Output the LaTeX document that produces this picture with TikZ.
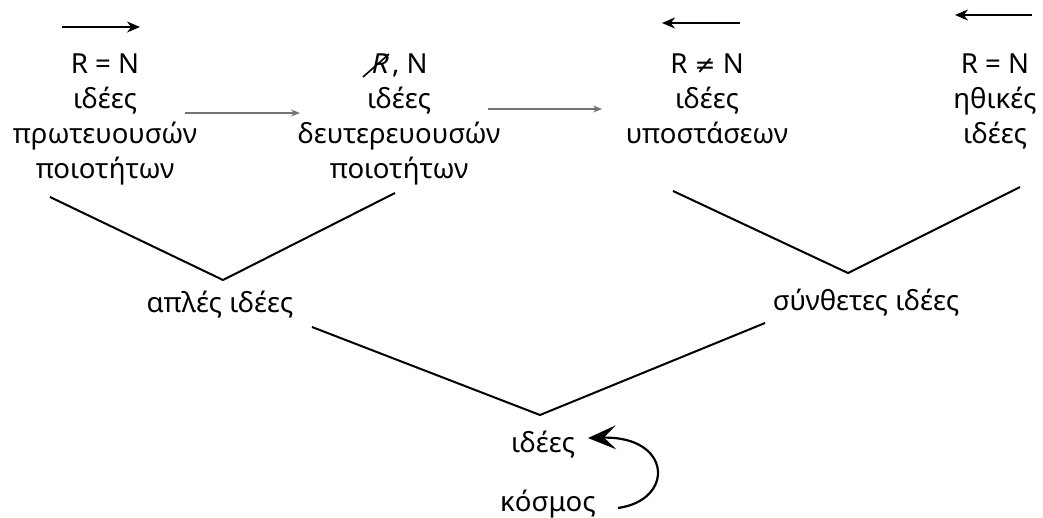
\documentclass[tikz,border=0pt]{standalone}
\usepackage{fontspec}
\setmainfont{Noto Sans}
\newfontfamily\slantR[FakeSlant=0.2]{Noto Sans}
\newfontfamily\symfont{DejaVu Sans}
\usetikzlibrary{arrows.meta}
\begin{document}
\begin{tikzpicture}[x=0.5pt,y=-0.5pt,
  lbl/.style={align=center, inner sep=0pt, font=\fontsize{13.8}{17.5}\selectfont},
  vline/.style={line width=1pt, line join=miter},
  toparrow/.style={line width=0.9pt, -{Stealth[length=6.5pt,width=5.5pt]}},
  midarrow/.style={line width=0.6pt, black!55, -{Stealth[length=4.5pt,width=3.5pt]}},
  bigarrow/.style={line width=1.1pt, -{Stealth[length=14pt,width=12pt,inset=6pt]}},
]
\useasboundingbox (0,0) rectangle (1043,518);

% text nodes (anchor = baseline of last line)
\node[lbl, anchor=base] (n1) at (105,179) {R = N\\ιδέες\\πρωτευουσών\\ποιοτήτων};
\node[lbl, anchor=base] (n2) at (399,179) {{\slantR R}\,, N\\ιδέες\\δευτερευουσών\\ποιοτήτων};
\node[lbl, anchor=base] (n3) at (707,144) {R {\symfont\fontsize{12.5}{17.5}\selectfont ≠} N\\ιδέες\\υποστάσεων};
\node[lbl, anchor=base] (n4) at (995,144) {R = N\\ηθικές\\ιδέες};
\node[lbl, anchor=base] (s) at (220,312) {απλές ιδέες};
\node[lbl, anchor=base] (c) at (866,310) {σύνθετες ιδέες};
\node[lbl, anchor=base] (i) at (543,452) {ιδέες};
\node[lbl, anchor=base] (k) at (548,511) {κόσμος};

% strike through R
\coordinate (st1) at (363,77);
\coordinate (st2) at (389,54);
\draw[line width=0.8pt] (st1) -- (st2);

% direction arrows
\coordinate (a0s) at (62,27);   \coordinate (a0e) at (140,27);
\coordinate (a3s) at (740,23);  \coordinate (a3e) at (662,23);
\coordinate (a4s) at (1032,15); \coordinate (a4e) at (955,15);
\draw[toparrow] (a0s) -- (a0e);
\draw[toparrow] (a3s) -- (a3e);
\draw[toparrow] (a4s) -- (a4e);

\coordinate (m1s) at (185,113); \coordinate (m1e) at (300,113);
\coordinate (m2s) at (488,109); \coordinate (m2e) at (602,109);
\draw[midarrow] (m1s) -- (m1e);
\draw[midarrow] (m2s) -- (m2e);

% V lines
\coordinate (l1) at (50,197);  \coordinate (lv) at (223,280); \coordinate (l2) at (395,193);
\coordinate (r1) at (673,191); \coordinate (rv) at (848,273); \coordinate (r2) at (1020,187);
\coordinate (b1) at (312,327); \coordinate (bv) at (540,415); \coordinate (b2) at (765,323);
\draw[vline] (l1) -- (lv) -- (l2);
\draw[vline] (r1) -- (rv) -- (r2);
\draw[vline] (b1) -- (bv) -- (b2);

% curved arrow from kosmos to idees
\coordinate (cs) at (618,508);
\coordinate (ce) at (588,438);
\draw[bigarrow] (cs) .. controls (675,500) and (672,436) .. (ce);
\end{tikzpicture}
\end{document}
